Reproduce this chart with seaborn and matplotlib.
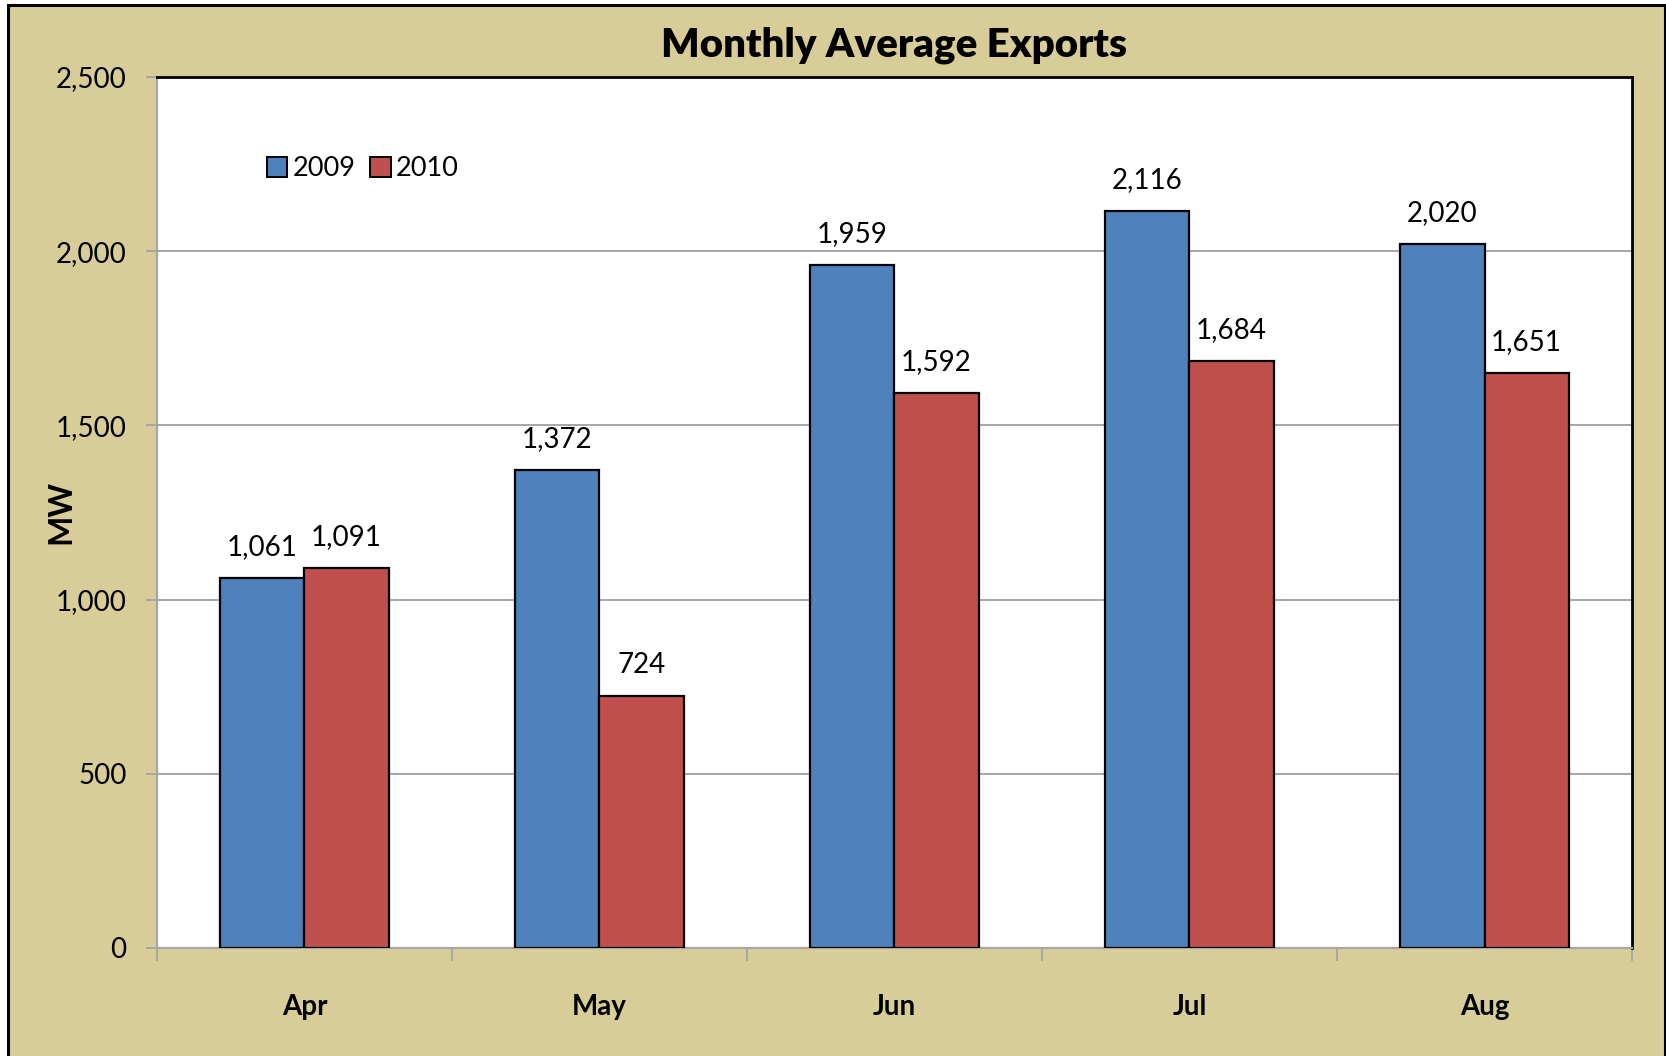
import pandas as pd
import matplotlib.pyplot as plt
import seaborn as sns
from matplotlib.patches import Rectangle, Patch
from matplotlib.ticker import FuncFormatter, FixedLocator

months = ["Apr", "May", "Jun", "Jul", "Aug"]
years = ["2009", "2010"]
exports_2009 = [1061, 1372, 1959, 2116, 2020]
exports_2010 = [1091, 724, 1592, 1684, 1651]
yticks = [0, 500, 1000, 1500, 2000, 2500]

blue = "#4F81BD"
red = "#C0504D"
tan = "#D8CD98"
grid_gray = "#A6A6A6"

df = pd.DataFrame({
    "month": months * 2,
    "year": [years[0]] * 5 + [years[1]] * 5,
    "mw": exports_2009 + exports_2010,
})

sns.set_style("white")
plt.rcParams["font.family"] = ["Lato", "DejaVu Sans"]
plt.rcParams["text.color"] = "black"
plt.rcParams["axes.labelcolor"] = "black"
plt.rcParams["xtick.labelcolor"] = "black"
plt.rcParams["ytick.labelcolor"] = "black"

fig = plt.figure(figsize=(16.66, 10.56), dpi=100, facecolor="white")
# tan chart area with black frame, kept behind the axes
fig.patches.append(Rectangle((0.0048, -0.02), 0.9946, 1.0153, transform=fig.transFigure,
                             facecolor=tan, edgecolor="black", linewidth=2.2, zorder=-10))

ax = fig.add_axes([0.0942, 0.1023, 0.8854, 0.8248])
ax.set_facecolor("white")

sns.barplot(data=df, x="month", y="mw", hue="year", order=months, hue_order=years,
            palette=[blue, red], width=0.57, edgecolor="black", linewidth=1.6,
            saturation=1, ax=ax, legend=False, zorder=3)

for cont in ax.containers:
    ax.bar_label(cont, labels=[f"{v:,.0f}" for v in cont.datavalues],
                 padding=13, fontsize=20, color="black")

ax.set_ylim(0, 2500)
ax.set_xlim(-0.5, 4.5)
ax.yaxis.set_major_locator(FixedLocator(yticks))
ax.yaxis.set_major_formatter(FuncFormatter(lambda v, p: f"{v:,.0f}"))
ax.grid(axis="y", color=grid_gray, linewidth=1.4, zorder=0)
ax.set_axisbelow(True)

ax.tick_params(axis="y", which="major", direction="out", length=8, width=1.4,
               color=grid_gray, pad=14, labelsize=20, left=True)
ax.tick_params(axis="x", which="major", length=0, pad=33, labelsize=20)
ax.set_xticks([-0.5, 0.5, 1.5, 2.5, 3.5, 4.5], minor=True)
ax.tick_params(axis="x", which="minor", direction="out", length=9, width=1.4,
               color=grid_gray, bottom=True)
for lbl in ax.get_xticklabels():
    lbl.set_fontweight("bold")

for side in ["left", "bottom"]:
    ax.spines[side].set_color(grid_gray)
    ax.spines[side].set_linewidth(1.6)
for side in ["top", "right"]:
    ax.spines[side].set_color("black")
    ax.spines[side].set_linewidth(2)

ax.set_xlabel("")
ax.set_ylabel("MW", fontsize=23, fontweight="bold")
ax.yaxis.set_label_coords(-0.055, 0.5)
ax.set_title("Monthly Average Exports", fontsize=29, fontweight="heavy", pad=15)

handles = [Patch(facecolor=blue, edgecolor="black", linewidth=1.4, label=years[0]),
           Patch(facecolor=red, edgecolor="black", linewidth=1.4, label=years[1])]
ax.legend(handles=handles, loc="upper left", bbox_to_anchor=(0.058, 0.937), ncol=2,
          frameon=False, fontsize=19.5, handlelength=0.75, handleheight=0.75,
          handletextpad=0.2, columnspacing=0.55)

fig.savefig("out.png", dpi=100, facecolor=fig.get_facecolor())
